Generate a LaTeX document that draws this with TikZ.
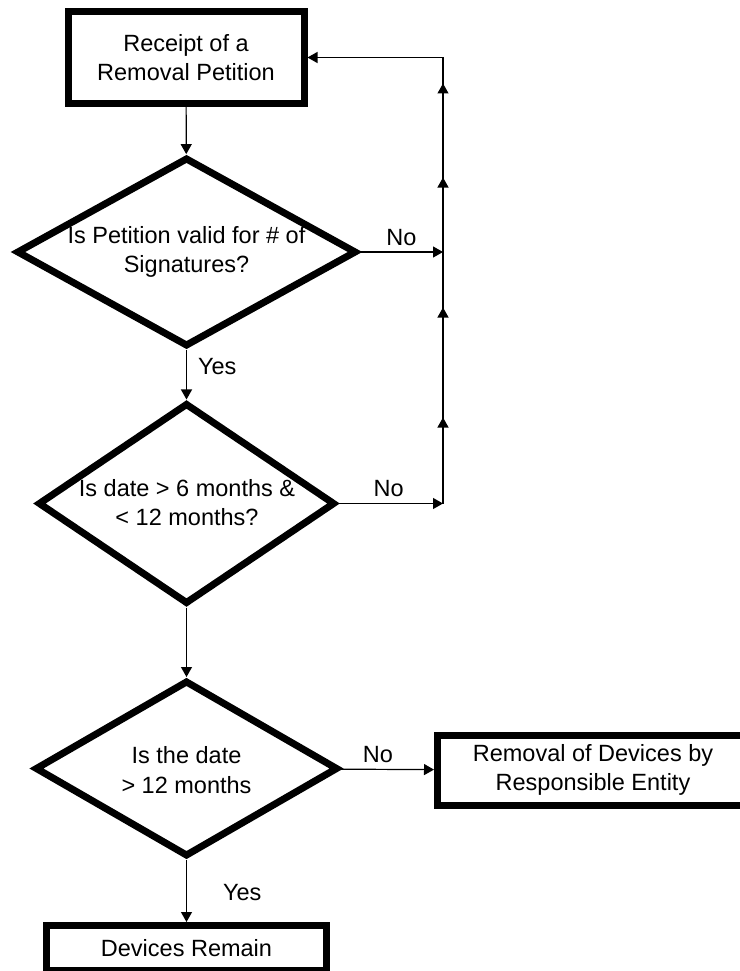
\documentclass[tikz,border=0pt]{standalone}
\usepackage{fontspec}
\setmainfont{Liberation Sans}
\usetikzlibrary{shapes.geometric,arrows.meta,decorations.markings}
\tikzset{
  block/.style={draw, rectangle, line width=7pt, align=center, inner sep=0pt},
  decision/.style={draw, diamond, line width=7pt, inner sep=0pt},
  tag/.style={inner sep=0pt, align=center},
  flow/.style={line width=1.2pt},
}
\begin{document}
\begin{tikzpicture}[x=1pt,y=-1pt,>={Triangle[length=10pt,width=11pt]},
    font=\fontsize{23.5}{29.5}\selectfont]
    \useasboundingbox (0,0) rectangle (739,971);
    \node[block, minimum width=236pt, minimum height=92pt] (receipt) at (186,57.5) {Receipt of a\\Removal Petition};
    \node[decision, minimum width=340pt, minimum height=189pt] (valid) at (186.5,252) {};
    \node[tag] (validtext) at (valid) {Is Petition valid for \# of\\Signatures?};
    \node[decision, minimum width=297pt, minimum height=201pt] (sixmonths) at (186.5,503.5) {};
    \node[tag] (sixmonthstext) at (187,502.5) {Is date > 6 months \&\\< 12 months?};
    \node[decision, minimum width=303pt, minimum height=176pt] (twelvemonths) at (186.5,768.5) {};
    \node[tag] (twelvemonthstext) at (186.5,770) {Is the date\\> 12 months};
    \node[block, minimum width=400pt, minimum height=70pt] (removal) at (637.5,770.5) {};
    \node[tag] (removaltext) at (593,770) {Removal of Devices by\\Responsible Entity};
    \node[block, minimum width=280pt, minimum height=45pt] (remain) at (186.5,948) {Devices Remain};
    \coordinate (j1) at (443,252);
    \coordinate (j2) at (443,503.5);
    \draw[flow,->] (receipt) -- (valid);
    \draw[flow,->] (valid) -- (sixmonths) node[tag, pos=0.33, anchor=west, xshift=11pt] {Yes};
    \draw[flow,->] (sixmonths) -- (twelvemonths);
    \draw[flow,->] (twelvemonths) -- (remain) node[tag, pos=0.53, anchor=west, xshift=36pt] {Yes};
    \draw[flow,->] (twelvemonths) -- (removal) node[tag, pos=0.4, above=6pt] {No};
    \draw[flow,->] (valid) -- (j1) node[tag, midway, above=6pt] {No};
    \draw[flow,->] (sixmonths) -- (j2) node[tag, pos=0.48, above=6pt] {No};
    % loop back to the start
    \draw[flow,->,postaction={decorate},decoration={markings,
        mark=at position 86pt with {\arrow{>}},
        mark=at position 196pt with {\arrow{>}},
        mark=at position 326pt with {\arrow{>}},
        mark=at position 420pt with {\arrow{>}}}] (j2) |- (receipt.east);
\end{tikzpicture}
\end{document}
